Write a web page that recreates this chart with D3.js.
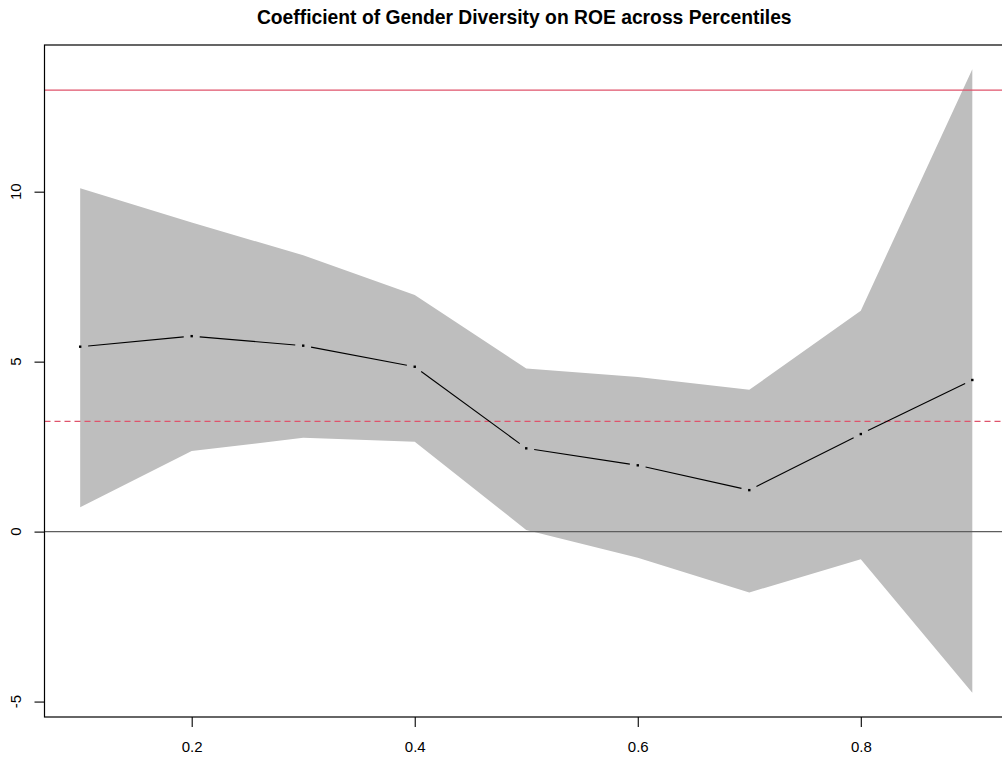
<!DOCTYPE html>
<html>
<head>
<meta charset="utf-8">
<script src="https://cdn.jsdelivr.net/npm/d3@7/dist/d3.min.js"></script>
<style>
  html, body { margin: 0; padding: 0; background: #fff; }
  svg { display: block; font-family: "Liberation Sans", Arial, sans-serif; }
</style>
</head>
<body>
<svg id="chart" width="1002" height="761"></svg>
<script>
// Quantile levels and estimated coefficients
const taus = [0.1, 0.2, 0.3, 0.4, 0.5, 0.6, 0.7, 0.8, 0.9];
const coef = [5.44, 5.75, 5.47, 4.85, 2.45, 1.95, 1.22, 2.87, 4.46];
const upperCI = [10.10, 9.09, 8.13, 6.96, 4.80, 4.55, 4.17, 6.50, 13.60];
const lowerCI = [0.72, 2.37, 2.76, 2.64, 0.05, -0.77, -1.79, -0.81, -4.74];

// Reference lines: OLS estimate (solid) and bound (dashed)
const olsSolid = 12.99;
const olsDashed = 3.24;

const xTicks = [0.2, 0.4, 0.6, 0.8];
const yTicks = [-5, 0, 5, 10];
const title = "Coefficient of Gender Diversity on ROE across Percentiles";

const svg = d3.select("#chart");
const pLeft = 44.5, pRight = 1008, pTop = 45, pBottom = 717;

const x = d3.scaleLinear().domain([0.068, 0.932]).range([pLeft, pRight]);
const y = d3.scaleLinear().domain([-5.454, 14.315]).range([pBottom, pTop]);

// Confidence band
const band = taus.map((t, i) => ({ t, lo: lowerCI[i], hi: upperCI[i] }));
svg.append("path")
  .datum(band)
  .attr("fill", "#bebebe")
  .attr("d", d3.area().x(d => x(d.t)).y0(d => y(d.lo)).y1(d => y(d.hi)));

// Zero line
svg.append("line")
  .attr("x1", pLeft).attr("x2", pRight)
  .attr("y1", y(0)).attr("y2", y(0))
  .attr("stroke", "#5e5e5e").attr("stroke-width", 1.3);

// OLS lines
svg.append("line")
  .attr("x1", pLeft).attr("x2", pRight)
  .attr("y1", y(olsSolid)).attr("y2", y(olsSolid))
  .attr("stroke", "#df536b").attr("stroke-width", 1.2);
svg.append("line")
  .attr("x1", pLeft).attr("x2", pRight)
  .attr("y1", y(olsDashed)).attr("y2", y(olsDashed))
  .attr("stroke", "#df536b").attr("stroke-width", 1.2)
  .attr("stroke-dasharray", "6,4");

// Coefficient path: line segments with gaps around the points
const pts = taus.map((t, i) => [x(t), y(coef[i])]);
const gap = 8;
const segs = d3.pairs(pts).map(([a, b]) => {
  const dx = b[0] - a[0], dy = b[1] - a[1];
  const len = Math.hypot(dx, dy);
  const ux = dx / len, uy = dy / len;
  return [a[0] + ux * gap, a[1] + uy * gap, b[0] - ux * gap, b[1] - uy * gap];
});
svg.append("g").selectAll("line").data(segs).join("line")
  .attr("x1", d => d[0]).attr("y1", d => d[1])
  .attr("x2", d => d[2]).attr("y2", d => d[3])
  .attr("stroke", "#000").attr("stroke-width", 1.1);
svg.append("g").selectAll("rect").data(pts).join("rect")
  .attr("x", d => d[0] - 1.2).attr("y", d => d[1] - 1.2)
  .attr("width", 2.4).attr("height", 2.4)
  .attr("fill", "#000");

// Frame
svg.append("rect")
  .attr("x", pLeft).attr("y", pTop)
  .attr("width", pRight - pLeft).attr("height", pBottom - pTop)
  .attr("fill", "none").attr("stroke", "#000").attr("stroke-width", 1.2);

// Bottom axis
const xAxis = svg.append("g").attr("transform", `translate(0,${pBottom})`)
  .call(d3.axisBottom(x).tickValues(xTicks).tickSize(10).tickPadding(14)
    .tickFormat(d3.format(".1f")));
xAxis.select(".domain").remove();
xAxis.selectAll("line").attr("stroke", "#000").attr("stroke-width", 1.1);
xAxis.selectAll("text").attr("font-size", 15).attr("fill", "#000")
  .attr("font-family", "Liberation Sans, Arial, sans-serif");

// Left axis with rotated labels
const yAxis = svg.append("g").attr("transform", `translate(${pLeft},0)`)
  .call(d3.axisLeft(y).tickValues(yTicks).tickSize(10).tickFormat(d3.format("d")));
yAxis.select(".domain").remove();
yAxis.selectAll("line").attr("stroke", "#000").attr("stroke-width", 1.1);
yAxis.selectAll("text").remove();
svg.append("g").selectAll("text").data(yTicks).join("text")
  .attr("transform", d => `translate(21,${y(d)}) rotate(-90)`)
  .attr("text-anchor", "middle")
  .attr("font-size", 15)
  .attr("fill", "#000")
  .text(d => d);

// Title
svg.append("text")
  .attr("x", (pLeft + pRight) / 2 - 2).attr("y", 24)
  .attr("text-anchor", "middle")
  .attr("font-size", 19.3).attr("font-weight", "bold")
  .attr("fill", "#000")
  .text(title);
</script>
</body>
</html>
